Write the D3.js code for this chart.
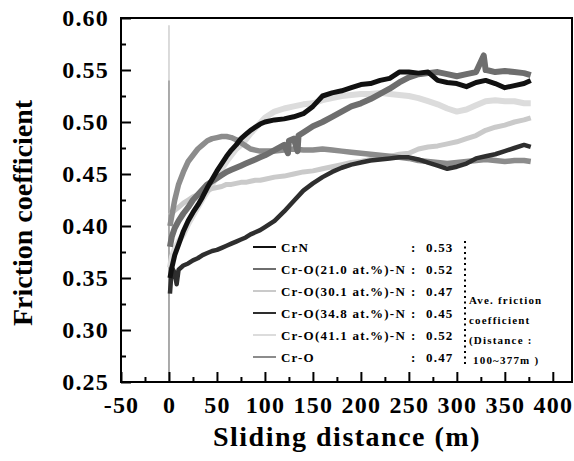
<!DOCTYPE html>
<html>
<head>
<meta charset="utf-8">
<script src="https://cdn.jsdelivr.net/npm/d3@7"></script>
<style>
  body { margin: 0; background: #fff; }
  text { font-family: "Liberation Serif", "Times New Roman", serif; font-weight: bold; }
</style>
</head>
<body>
<div id="chart"></div>
<script>
// sliding distance grid (m) shared by all curves
var distance = [1, 3, 6, 10, 15, 20, 25, 30, 35, 40, 45, 50, 55, 60, 65, 70, 75, 80, 85, 90, 95, 100,
  110, 120, 130, 140, 150, 160, 170, 180, 190, 200, 210, 220, 230, 240, 250, 260, 270, 280, 290,
  300, 310, 320, 330, 340, 350, 360, 370, 377];

// friction coefficient
var crN = [0.350, 0.360, 0.372, 0.382, 0.395, 0.405, 0.413, 0.420, 0.428, 0.437, 0.445, 0.453, 0.460, 0.467, 0.473, 0.478, 0.484, 0.488, 0.492, 0.495, 0.498, 0.500,
  0.502, 0.503, 0.505, 0.508, 0.515, 0.525, 0.528, 0.530, 0.533, 0.536, 0.537, 0.540, 0.542, 0.548, 0.548, 0.547, 0.548, 0.540, 0.538,
  0.537, 0.534, 0.538, 0.540, 0.537, 0.533, 0.535, 0.537, 0.540];
var crO21 = [0.380, 0.390, 0.398, 0.405, 0.412, 0.418, 0.425, 0.430, 0.435, 0.440, 0.443, 0.446, 0.449, 0.452, 0.454, 0.456, 0.458, 0.460, 0.462, 0.464, 0.466, 0.468,
  0.473, 0.478, 0.484, 0.490, 0.496, 0.500, 0.505, 0.510, 0.515, 0.518, 0.522, 0.527, 0.532, 0.538, 0.543, 0.546, 0.547, 0.548, 0.546,
  0.544, 0.546, 0.548, 0.550, 0.548, 0.549, 0.548, 0.547, 0.545];
var crO30 = [0.410, 0.412, 0.415, 0.418, 0.422, 0.425, 0.428, 0.430, 0.432, 0.434, 0.436, 0.437, 0.438, 0.440, 0.440, 0.441, 0.442, 0.442, 0.443, 0.444, 0.444, 0.445,
  0.447, 0.448, 0.450, 0.452, 0.453, 0.455, 0.457, 0.459, 0.461, 0.462, 0.464, 0.465, 0.467, 0.469, 0.470, 0.474, 0.476, 0.477, 0.479,
  0.481, 0.484, 0.487, 0.492, 0.495, 0.497, 0.500, 0.502, 0.504];
var crO34 = [0.335, 0.360, 0.355, 0.358, 0.362, 0.364, 0.367, 0.369, 0.372, 0.374, 0.376, 0.377, 0.379, 0.381, 0.383, 0.385, 0.387, 0.389, 0.392, 0.394, 0.396, 0.399,
  0.405, 0.414, 0.424, 0.434, 0.441, 0.447, 0.452, 0.456, 0.459, 0.461, 0.463, 0.464, 0.465, 0.466, 0.466, 0.464, 0.461, 0.458, 0.455,
  0.457, 0.460, 0.465, 0.467, 0.469, 0.472, 0.475, 0.478, 0.476];
var crO41 = [0.360, 0.370, 0.378, 0.385, 0.392, 0.402, 0.410, 0.418, 0.426, 0.433, 0.440, 0.448, 0.455, 0.462, 0.468, 0.474, 0.478, 0.483, 0.489, 0.494, 0.499, 0.504,
  0.510, 0.513, 0.515, 0.517, 0.518, 0.521, 0.523, 0.525, 0.526, 0.527, 0.527, 0.528, 0.527, 0.526, 0.525, 0.523, 0.520, 0.517, 0.513,
  0.510, 0.512, 0.516, 0.520, 0.521, 0.520, 0.520, 0.518, 0.518];
var crO = [0.400, 0.410, 0.425, 0.440, 0.452, 0.462, 0.468, 0.474, 0.478, 0.482, 0.484, 0.485, 0.486, 0.486, 0.485, 0.483, 0.480, 0.477, 0.474, 0.473, 0.472, 0.472,
  0.472, 0.473, 0.474, 0.473, 0.473, 0.474, 0.473, 0.472, 0.471, 0.470, 0.469, 0.468, 0.467, 0.466, 0.465, 0.463, 0.462, 0.461, 0.460,
  0.461, 0.462, 0.463, 0.464, 0.463, 0.462, 0.463, 0.463, 0.462];

// extra short-lived points (drops, peaks): [distance, value]
var extra21 = [[124, 0.470], [125, 0.482], [134, 0.472], [135, 0.487], [328, 0.564], [331, 0.550]];
var extra34 = [[8, 0.344]];

// start-up spikes at zero distance: top value and colour
var spikeTop = [0.593, 0.540];
var spikeColor = ['#cfcfcf', '#9a9a9a'];

var names = ['CrN', 'Cr-O(21.0 at.%)-N', 'Cr-O(30.1 at.%)-N', 'Cr-O(34.8 at.%)-N', 'Cr-O(41.1 at.%)-N', 'Cr-O'];
var averages = ['0.53', '0.52', '0.47', '0.45', '0.52', '0.47'];
var colors = ['#111111', '#6e6e6e', '#cacaca', '#2e2e2e', '#dcdcdc', '#8c8c8c'];
var noteLines = ['Ave. friction', 'coefficient', '(Distance :', '100~377m )'];

var xTicks = [-50, 0, 50, 100, 150, 200, 250, 300, 350, 400];
var yTicks = [0.25, 0.30, 0.35, 0.40, 0.45, 0.50, 0.55, 0.60];

var chartW = 574, chartH = 461;
var plotL = 121, plotR = 572, plotT = 18, plotB = 382;

var svg = d3.select('#chart').append('svg')
  .attr('width', chartW)
  .attr('height', chartH);

var x = d3.scaleLinear().domain([-50, 420]).range([plotL, plotR]);
var y = d3.scaleLinear().domain([0.25, 0.60]).range([plotB, plotT]);

function build(vals, extra) {
  var pts = distance.map(function(d, i) { return [d, vals[i]]; });
  (extra || []).forEach(function(p) { pts.push(p); });
  pts.sort(function(a, b) { return a[0] - b[0]; });
  return pts;
}

var series = [
  build(crN), build(crO21, extra21), build(crO30),
  build(crO34, extra34), build(crO41), build(crO)
];

svg.append('clipPath').attr('id', 'clip')
  .append('rect').attr('x', plotL).attr('y', plotT).attr('width', plotR - plotL).attr('height', plotB - plotT);

var line = d3.line()
  .x(function(d) { return x(d[0]); })
  .y(function(d) { return y(d[1]); });

var g = svg.append('g').attr('clip-path', 'url(#clip)');

// thin spikes at the start of the test
spikeTop.forEach(function(v, i) {
  g.append('line')
    .attr('x1', x(0)).attr('x2', x(0))
    .attr('y1', y(0.25)).attr('y2', y(v))
    .attr('stroke', spikeColor[i])
    .attr('stroke-width', 1.5);
});

// draw light curves first so darker ones sit on top
var order = [4, 2, 5, 3, 1, 0];
var widths = [5, 6, 5, 4.5, 6, 5.5];
order.forEach(function(i) {
  g.append('path')
    .datum(series[i])
    .attr('fill', 'none')
    .attr('stroke', colors[i])
    .attr('stroke-width', widths[i])
    .attr('stroke-linejoin', 'round')
    .attr('d', line);
});

// axes with inward ticks
var xAxis = d3.axisBottom(x).tickValues(xTicks).tickSize(-10).tickPadding(14).tickFormat(function(d) { return String(d); });
var xMinor = d3.axisBottom(x).tickValues(d3.range(-25, 420, 50)).tickSize(-5).tickFormat('');
var yAxis = d3.axisLeft(y).tickValues(yTicks).tickSize(-10).tickPadding(12).tickFormat(d3.format('.2f'));
var yMinor = d3.axisLeft(y).tickValues(d3.range(0.275, 0.6, 0.05)).tickSize(-5).tickFormat('');

[xAxis, xMinor].forEach(function(a) {
  svg.append('g').attr('class', 'axis')
    .attr('transform', 'translate(0,' + plotB + ')')
    .call(a);
});
[yAxis, yMinor].forEach(function(a) {
  svg.append('g').attr('class', 'axis')
    .attr('transform', 'translate(' + plotL + ',0)')
    .call(a);
});

svg.selectAll('.axis .domain').remove();
svg.selectAll('.axis line').attr('stroke', '#000').attr('stroke-width', 2);
svg.selectAll('.axis text')
  .attr('fill', '#000')
  .style('font-size', '24px')
  .style('font-family', '"Liberation Serif", "Times New Roman", serif')
  .style('font-weight', 'bold')
  .style('letter-spacing', '1.2px');

svg.append('rect')
  .attr('x', plotL).attr('y', plotT)
  .attr('width', plotR - plotL).attr('height', plotB - plotT)
  .attr('fill', 'none')
  .attr('stroke', '#000')
  .attr('stroke-width', 2);

// axis titles
svg.append('text')
  .attr('x', 347).attr('y', 446)
  .attr('text-anchor', 'middle')
  .style('font-size', '28px')
  .style('letter-spacing', '1.5px')
  .text('Sliding distance (m)');

svg.append('text')
  .attr('transform', 'translate(32,213) rotate(-90)')
  .attr('text-anchor', 'middle')
  .style('font-size', '28px')
  .text('Friction coefficient');

// legend
var legend = svg.append('g');
names.forEach(function(n, i) {
  var ly = 247 + i * 22;
  legend.append('line')
    .attr('x1', 253).attr('x2', 276)
    .attr('y1', ly).attr('y2', ly)
    .attr('stroke', colors[i])
    .attr('stroke-width', 2);
  legend.append('text')
    .attr('x', 281).attr('y', ly + 4.5)
    .style('font-size', '13px')
    .style('letter-spacing', '1.2px')
    .text(n);
  legend.append('text')
    .attr('x', 411).attr('y', ly + 4.5)
    .style('font-size', '13px')
    .text(':');
  legend.append('text')
    .attr('x', 426).attr('y', ly + 4.5)
    .style('font-size', '13px')
    .style('letter-spacing', '1.2px')
    .text(averages[i]);
});

legend.append('line')
  .attr('x1', 465).attr('x2', 465)
  .attr('y1', 241).attr('y2', 364)
  .attr('stroke', '#000')
  .attr('stroke-width', 2)
  .attr('stroke-dasharray', '2,3.5');

noteLines.forEach(function(t, i) {
  legend.append('text')
    .attr('x', i === 3 ? 473 : 469)
    .attr('y', 304 + i * 20)
    .style('font-size', '11px')
    .style('letter-spacing', '1.2px')
    .text(t);
});
</script>
</body>
</html>
